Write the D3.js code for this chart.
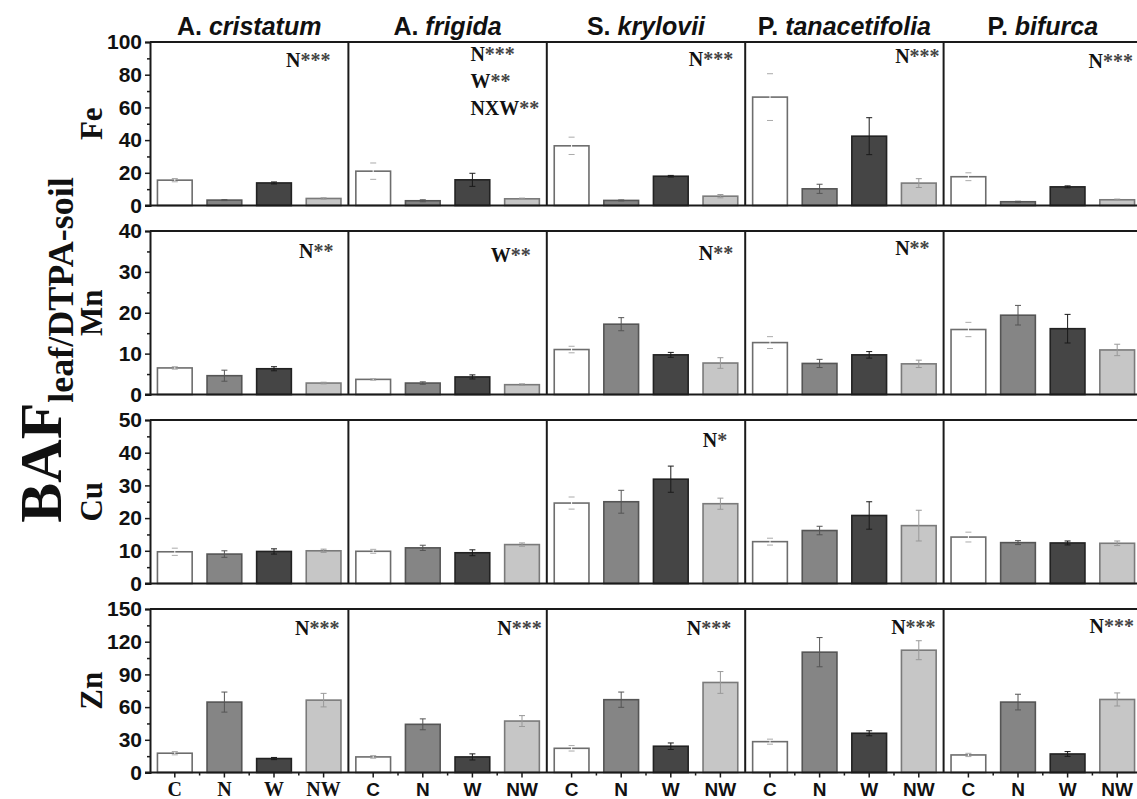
<!DOCTYPE html>
<html>
<head>
<meta charset="utf-8">
<script src="https://cdn.jsdelivr.net/npm/d3@7"></script>
<style>
  body { margin: 0; background: #fff; }
  text { fill: #111; }
</style>
</head>
<body>
<svg id="chart"></svg>
<script>
const width = 1137;
const height = 799;

// Data
const genus = ["A.", "A.", "S.", "P.", "P."];
const epithet = ["cristatum", "frigida", "krylovii", "tanacetifolia", "bifurca"];
const treatments = ["C", "N", "W", "NW"];
const elements = ["Fe", "Mn", "Cu", "Zn"];
const yMax = [100, 40, 50, 150];
const yStep = [20, 10, 10, 30];

// mean BAF per species (rows) x treatment (cols)
const feMean = [[15.5, 3.3, 13.8, 4.3], [21.0, 2.9, 15.7, 4.1], [36.5, 3.1, 17.9, 5.7], [66.3, 10.2, 42.4, 13.7], [17.6, 2.3, 11.4, 3.5]];
const feErr  = [[1.0, 0.3, 0.6, 0.4], [5.0, 0.6, 4.0, 0.4], [5.3, 0.3, 0.5, 1.0], [14.3, 2.8, 11.3, 2.7], [2.4, 0.3, 0.6, 0.4]];
const mnMean = [[6.5, 4.6, 6.3, 2.8], [3.7, 2.8, 4.3, 2.4], [11.0, 17.2, 9.7, 7.7], [12.7, 7.6, 9.7, 7.5], [15.9, 19.4, 16.1, 10.9]];
const mnErr  = [[0.3, 1.35, 0.5, 0.2], [0.2, 0.3, 0.5, 0.2], [0.8, 1.6, 0.6, 1.3], [1.45, 1.0, 0.8, 0.9], [1.75, 2.4, 3.5, 1.4]];
const cuMean = [[9.7, 9.0, 9.8, 10.0], [9.85, 10.9, 9.4, 11.9], [24.6, 25.0, 31.9, 24.4], [12.8, 16.2, 20.8, 17.7], [14.2, 12.5, 12.4, 12.3]];
const cuErr  = [[1.1, 1.0, 0.8, 0.5], [0.6, 0.8, 0.9, 0.5], [1.85, 3.5, 4.0, 1.7], [1.05, 1.3, 4.2, 4.7], [1.5, 0.6, 0.6, 0.7]];
const znMean = [[17.7, 64.6, 12.8, 66.4], [14.3, 44.2, 14.3, 47.2], [22.2, 66.8, 24.1, 82.6], [28.3, 110.4, 36.0, 112.2], [16.1, 64.6, 17.0, 67.0]];
const znErr  = [[1.5, 9.2, 1.0, 6.2], [1.2, 5.0, 2.8, 5.0], [2.5, 7.0, 3.0, 10.0], [2.3, 13.4, 2.3, 8.7], [1.5, 7.2, 2.2, 6.0]];

// significance labels per species
const sigFe = [["N***"], ["N***", "W**", "NXW**"], ["N***"], ["N***"], ["N***"]];
const sigMn = [["N**"], ["W**"], ["N**"], ["N**"], []];
const sigCu = [[], [], ["N*"], [], []];
const sigZn = [["N***"], ["N***"], ["N***"], ["N***"], ["N***"]];

const means = [feMean, mnMean, cuMean, znMean];
const errs = [feErr, mnErr, cuErr, znErr];
const sigs = [sigFe, sigMn, sigCu, sigZn];

// layout
const left = 150, panelW = 198.4, top0 = 42, rowStep = 189, rowH = 163.5;
const frameColor = "#1a1a1a";
const serif = "'Liberation Serif', 'Times New Roman', serif";
const sans = "'Liberation Sans', Arial, sans-serif";

// bar styles per treatment
const fillC = { C: "#ffffff", N: "#858585", W: "#454545", NW: "#c6c6c6" };
const strokeC = { C: "#6d6d6d", N: "#555555", W: "#222222", NW: "#7a7a7a" };
const errLine = { C: "#ffffff", N: "#555555", W: "#1a1a1a", NW: "#999999" };
const errCap = { C: "#aaaaaa", N: "#555555", W: "#1a1a1a", NW: "#999999" };

// annotation placement: [right padding (or -start offset), baseline offset]
const annotPos = [
  [[18, 25], [-122, 19], [12, 24], [4, 21], [9, 26]],
  [[15, 27], [16, 31], [12, 29], [14, 24], [0, 0]],
  [[0, 0], [0, 0], [18, 27], [0, 0], [0, 0]],
  [[9, 26], [5, 26], [14, 26], [8, 25], [8, 24]]
];

const svg = d3.select("#chart")
    .attr("width", width)
    .attr("height", height)
    .style("font-family", sans);

const xPanel = d3.scaleBand().domain(d3.range(5)).range([left, left + 5 * panelW]);
const xBar = d3.scaleBand().domain(treatments).range([0, panelW]).paddingInner(0.3).paddingOuter(0.15);

elements.forEach((el, r) => {
    const rowTop = top0 + r * rowStep;
    const y = d3.scaleLinear().domain([0, yMax[r]]).range([rowTop + rowH, rowTop]);
    const g = svg.append("g");

    // bars and error bars
    for (let s = 0; s < 5; s++) {
        const pg = g.append("g").attr("transform", `translate(${xPanel(s)},0)`);
        const rows = treatments.map((t, k) => ({ t, m: means[r][s][k], e: errs[r][s][k] }));
        pg.selectAll("rect").data(rows).enter().append("rect")
            .attr("x", d => xBar(d.t))
            .attr("width", xBar.bandwidth())
            .attr("y", d => y(d.m))
            .attr("height", d => y(0) - y(d.m))
            .attr("fill", d => fillC[d.t])
            .attr("stroke", d => strokeC[d.t])
            .attr("stroke-width", 1.6);

        const eb = pg.selectAll(".err").data(rows).enter().append("g")
            .attr("transform", d => `translate(${xBar(d.t) + xBar.bandwidth() / 2},0)`);
        eb.append("line")
            .attr("y1", d => y(d.m - d.e)).attr("y2", d => y(d.m + d.e))
            .attr("stroke", d => errLine[d.t]).attr("stroke-width", 1);
        [-1, 1].forEach(sign => {
            eb.append("line")
                .attr("x1", -3).attr("x2", 3)
                .attr("y1", d => y(d.m + sign * d.e)).attr("y2", d => y(d.m + sign * d.e))
                .attr("stroke", d => errCap[d.t]).attr("stroke-width", 1);
        });

        // significance text: bold letters, lighter asterisks
        const lines = sigs[r][s];
        const pos = annotPos[r][s];
        lines.forEach((txt, li) => {
            const t = g.append("text")
                .attr("font-family", serif)
                .attr("font-size", 20)
                .attr("y", rowTop + pos[1] + li * 27);
            if (pos[0] < 0) {
                t.attr("x", xPanel(s) - pos[0]).attr("text-anchor", "start");
            } else {
                t.attr("x", xPanel(s) + panelW - pos[0]).attr("text-anchor", "end");
            }
            const letters = txt.replace(/\*/g, "");
            const stars = txt.slice(letters.length);
            t.append("tspan").attr("font-weight", "bold").text(letters);
            t.append("tspan").attr("font-weight", "bold").style("fill", "#444").text(stars);
        });
    }

    // frame: top line, baseline, panel dividers
    g.append("line").attr("x1", left).attr("x2", width)
        .attr("y1", rowTop).attr("y2", rowTop)
        .attr("stroke", frameColor).attr("stroke-width", 2);
    g.append("line").attr("x1", left - 5).attr("x2", width)
        .attr("y1", y(0)).attr("y2", y(0))
        .attr("stroke", frameColor).attr("stroke-width", 2.2);
    for (let s = 1; s < 5; s++) {
        g.append("line").attr("x1", xPanel(s)).attr("x2", xPanel(s))
            .attr("y1", rowTop).attr("y2", y(0))
            .attr("stroke", frameColor).attr("stroke-width", 2);
    }

    // y axis with minor ticks
    const yAxis = g.append("g").attr("transform", `translate(${left},0)`)
        .call(d3.axisLeft(y).tickValues(d3.range(0, yMax[r] + 1, yStep[r])).tickSize(5).tickPadding(3));
    yAxis.select(".domain").attr("stroke", frameColor).attr("stroke-width", 2);
    yAxis.selectAll(".tick line").attr("stroke", frameColor).attr("stroke-width", 1.5);
    yAxis.selectAll("text")
        .attr("font-family", sans).attr("font-weight", "bold").attr("font-size", 21).attr("fill", "#111");
    g.append("g").attr("transform", `translate(${left},0)`)
        .call(d3.axisLeft(y).tickValues(d3.range(yStep[r] / 2, yMax[r], yStep[r])).tickSize(3).tickFormat(""))
        .call(a => a.select(".domain").remove())
        .selectAll(".tick line").attr("stroke", frameColor).attr("stroke-width", 1.5);

    // element label
    g.append("text")
        .attr("transform", `translate(102,${rowTop + rowH / 2}) rotate(-90)`)
        .attr("text-anchor", "middle")
        .attr("font-family", serif).attr("font-weight", "bold").attr("font-size", 31)
        .text(el);
});

// bottom x axis: ticks and labels for each species panel
const baseY = top0 + 3 * rowStep + rowH;
for (let s = 0; s < 5; s++) {
    const ax = svg.append("g").attr("transform", `translate(${xPanel(s)},${baseY})`);
    ax.selectAll(".maj").data(treatments).enter().append("line")
        .attr("x1", d => xBar(d) + xBar.bandwidth() / 2).attr("x2", d => xBar(d) + xBar.bandwidth() / 2)
        .attr("y1", 0).attr("y2", 5).attr("stroke", frameColor).attr("stroke-width", 1.5);
    ax.selectAll(".min").data(treatments.slice(1)).enter().append("line")
        .attr("x1", d => xBar(d) - xBar.step() * xBar.paddingInner() / 2)
        .attr("x2", d => xBar(d) - xBar.step() * xBar.paddingInner() / 2)
        .attr("y1", 0).attr("y2", 3).attr("stroke", frameColor).attr("stroke-width", 1.5);
    ax.selectAll("text").data(treatments).enter().append("text")
        .attr("x", d => xBar(d) + xBar.bandwidth() / 2)
        .attr("y", 23)
        .attr("text-anchor", "middle")
        .attr("font-family", s === 0 ? serif : sans)
        .attr("font-weight", "bold")
        .attr("font-size", s === 0 ? 20 : 19)
        .text(d => d);
}

// species titles
for (let s = 0; s < 5; s++) {
    const t = svg.append("text")
        .attr("x", xPanel(s) + panelW / 2)
        .attr("y", 35)
        .attr("text-anchor", "middle")
        .attr("font-family", sans).attr("font-weight", "bold").attr("font-size", 25);
    t.append("tspan").text(genus[s] + " ");
    t.append("tspan").attr("font-style", "italic").text(epithet[s]);
}

// big y label
const yl = svg.append("text")
    .attr("transform", "translate(61,350) rotate(-90)")
    .attr("text-anchor", "middle")
    .attr("font-family", serif).attr("font-weight", "bold");
yl.append("tspan").attr("font-size", 60).text("BAF");
yl.append("tspan").attr("font-size", 36).attr("dy", 12).text("leaf/DTPA-soil");
</script>
</body>
</html>
